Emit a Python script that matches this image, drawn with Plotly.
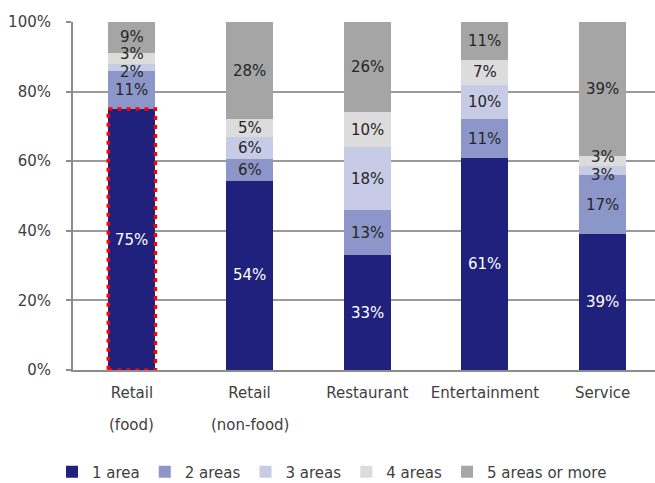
import plotly.graph_objects as go

# Store formats by number of areas in which they operate (% of stores)
categories = ["Retail (food)", "Retail (non-food)", "Restaurant", "Entertainment", "Service"]
tick_main = ["Retail", "Retail", "Restaurant", "Entertainment", "Service"]
tick_sub = ["(food)", "(non-food)", "", "", ""]
y_ticks = [0, 20, 40, 60, 80, 100]
y_tick_text = ["0%", "20%", "40%", "60%", "80%", "100%"]

series_names = ["1 area", "2 areas", "3 areas", "4 areas", "5 areas or more"]
area_1 = [75, 54.4, 33, 61, 39.1]
area_2 = [11, 6.2, 13, 11, 16.8]
area_3 = [2, 6.4, 18, 10, 2.6]
area_4 = [3, 5.0, 10, 7, 2.9]
area_5 = [9, 28.0, 26, 11, 38.6]
series_values = [area_1, area_2, area_3, area_4, area_5]

colors = ["#1f217c", "#8d96c8", "#c7cbe6", "#dcdcdc", "#a5a5a5"]
text_colors = ["#ffffff", "#262626", "#262626", "#262626", "#262626"]

FONT = "DejaVu Sans"
FS = 15
BARGAP = 0.6
MIN_LABEL_GAP = 5.0  # minimum vertical spacing between value labels, in % units

fig = go.Figure()
for name, vals, col in zip(series_names, series_values, colors):
    fig.add_trace(go.Bar(
        x=categories, y=vals, name=name,
        marker=dict(color=col, line=dict(width=0)),
        hoverinfo="x+y+name",
    ))


def label_positions(values):
    """Segment centres, pushed apart where neighbouring labels would collide."""
    pos, base = [], 0.0
    for v in values:
        pos.append(base + v / 2)
        base += v
    for _ in range(20):
        moved = False
        for k in range(len(pos) - 1):
            gap = pos[k + 1] - pos[k]
            if gap < MIN_LABEL_GAP - 1e-9:
                mid = (pos[k] + pos[k + 1]) / 2
                pos[k] = mid - MIN_LABEL_GAP / 2
                pos[k + 1] = mid + MIN_LABEL_GAP / 2
                moved = True
        if not moved:
            break
    return pos


# value labels inside the stacked segments
for i, cat in enumerate(categories):
    vals = [s[i] for s in series_values]
    for v, y, tcol in zip(vals, label_positions(vals), text_colors):
        fig.add_annotation(x=cat, y=y, xref="x", yref="y", text=f"{v:.0f}%",
                           showarrow=False, xanchor="center", yanchor="middle",
                           font=dict(family=FONT, size=FS, color=tcol))

# dotted highlight around the food-retail single-area segment
half_w = (1 - BARGAP) / 2
fig.add_shape(type="rect", xref="x", yref="y",
              x0=0 - half_w, x1=0 + half_w, y0=0, y1=area_1[0],
              line=dict(color="#ff0000", width=3.5, dash="4px,5px"), layer="above")

# second line of the category labels
for i, sub in enumerate(tick_sub):
    if sub:
        fig.add_annotation(x=categories[i], xref="x", y=-0.158, yref="paper",
                           text=sub, showarrow=False, yanchor="middle",
                           font=dict(family=FONT, size=FS, color="#404040"))

fig.update_layout(
    width=655, height=483,
    margin=dict(l=73, r=0, t=22, b=113),
    barmode="stack", bargap=BARGAP,
    paper_bgcolor="white", plot_bgcolor="white",
    font=dict(family=FONT, size=FS, color="#404040"),
    showlegend=True,
    legend=dict(orientation="h", xref="container", yref="container",
                x=52 / 655, y=1 - 472 / 483, xanchor="left", yanchor="middle",
                font=dict(family=FONT, size=FS, color="#404040"),
                traceorder="normal"),
    xaxis=dict(range=[-0.5, 4.445], tickmode="array", tickvals=categories, ticktext=tick_main,
               showline=True, linecolor="#8c8c8c", linewidth=2, ticks="",
               showgrid=False, ticklabelstandoff=8,
               tickfont=dict(family=FONT, size=FS, color="#404040")),
    yaxis=dict(range=[0, 100], tickmode="array", tickvals=y_ticks, ticktext=y_tick_text,
               showline=True, linecolor="#8c8c8c", linewidth=2,
               ticks="outside", ticklen=5, tickcolor="#8c8c8c", tickwidth=2,
               showgrid=True, gridcolor="#9a9a9a", gridwidth=1.5,
               zeroline=False, ticklabelstandoff=12,
               tickfont=dict(family=FONT, size=FS, color="#404040")),
)

fig.write_html("out.html")
